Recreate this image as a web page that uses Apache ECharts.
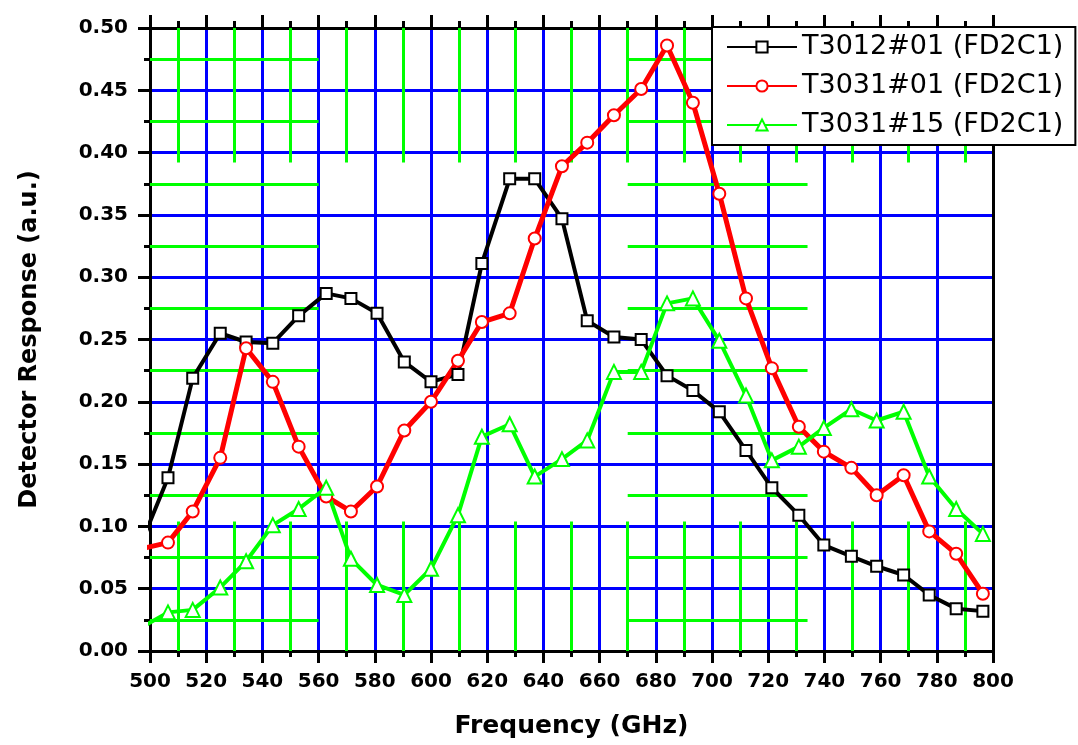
<!DOCTYPE html>
<html>
<head>
<meta charset="utf-8">
<script src="https://cdn.jsdelivr.net/npm/echarts@6/dist/echarts.min.js"></script>
<style>
html, body { margin: 0; padding: 0; background: #fff; }
#chart { width: 1078px; height: 745px; }
</style>
</head>
<body>
<div id="chart"></div>
<script>
// frequencies (GHz), shared by the three curves; first point sits just left of the axis
const freq = [497, 506.4, 515.2, 525.0, 534.2, 543.7, 552.9, 562.7, 571.5, 580.8,
    590.5, 600.0, 609.6, 618.1, 628.0, 636.9, 646.6, 655.6, 665.1, 674.8,
    684.0, 693.2, 702.6, 712.1, 721.3, 730.9, 739.8, 749.6, 758.6, 768.2,
    777.3, 786.9, 796.4];

const t3012_01 = [0.087, 0.139, 0.219, 0.255, 0.248, 0.247, 0.269, 0.287, 0.283, 0.271,
    0.232, 0.216, 0.222, 0.311, 0.379, 0.379, 0.347, 0.265, 0.252, 0.250,
    0.221, 0.209, 0.192, 0.161, 0.131, 0.109, 0.085, 0.076, 0.068, 0.061,
    0.045, 0.034, 0.032];

const t3031_01 = [0.082, 0.087, 0.112, 0.155, 0.243, 0.216, 0.164, 0.124, 0.112, 0.132,
    0.177, 0.200, 0.233, 0.264, 0.271, 0.331, 0.389, 0.408, 0.430, 0.451,
    0.486, 0.440, 0.367, 0.283, 0.227, 0.180, 0.160, 0.147, 0.125, 0.141,
    0.096, 0.078, 0.046];

const t3031_15 = [0.019, 0.031, 0.033, 0.051, 0.072, 0.101, 0.114, 0.131, 0.074, 0.053,
    0.045, 0.066, 0.109, 0.172, 0.182, 0.140, 0.154, 0.169, 0.224, 0.224,
    0.279, 0.283, 0.249, 0.205, 0.153, 0.164, 0.179, 0.194, 0.185, 0.192,
    0.140, 0.114, 0.094];

const seriesNames = ['T3012#01 (FD2C1)', 'T3031#01 (FD2C1)', 'T3031#15 (FD2C1)'];

const xTicks = { min: 500, max: 800, interval: 20 };
const yTicks = { min: 0, max: 0.5, interval: 0.05 };

// minor grid pieces (green) that only show up in parts of the plot
const minorX = [510, 530, 550, 570, 590, 610, 630, 650, 670, 690, 710, 730, 750, 770, 790];
const minorY = [0.025, 0.075, 0.125, 0.175, 0.225, 0.275, 0.325, 0.375, 0.425, 0.475];
const minorXBands = [[0, 0.104], [0.392, 0.5]];
const minorYBands = [[500, 560], [670, 734]];

const blue = '#0000ff';
const green = '#00ff00';
const tickFont = 'DejaVu Sans';

const chart = echarts.init(document.getElementById('chart'));

function pairs(ys) {
    return freq.map((f, i) => [f, ys[i]]);
}

let minorSegs = [];
minorX.forEach(x => minorXBands.forEach(b => minorSegs.push({ coords: [[x, b[0]], [x, b[1]]] })));
minorY.forEach(y => minorYBands.forEach(b => minorSegs.push({ coords: [[b[0], y], [b[1], y]] })));

function curve(name, ys, color, symbol, size, width) {
    return {
        name: name,
        type: 'line',
        data: pairs(ys),
        symbol: symbol,
        symbolSize: size,
        showAllSymbol: true,
        clip: true,
        z: 5,
        lineStyle: { color: color, width: width },
        itemStyle: { color: '#fff', borderColor: color, borderWidth: 2 }
    };
}

const option = {
    animation: false,
    backgroundColor: '#fff',
    grid: { left: 150, right: 85, top: 28, bottom: 94 },
    legend: {
        data: seriesNames,
        orient: 'vertical',
        left: 712,
        top: 27,
        padding: [5, 12, 5, 14],
        itemGap: 9,
        itemWidth: 70,
        itemHeight: 14,
        backgroundColor: '#fff',
        borderColor: '#000',
        borderWidth: 2,
        textStyle: { fontFamily: 'DejaVu Sans', fontSize: 27, color: '#000', lineHeight: 30 }
    },
    xAxis: [
        {
            type: 'value',
            min: xTicks.min, max: xTicks.max, interval: xTicks.interval,
            name: 'Frequency (GHz)',
            nameLocation: 'middle',
            nameGap: 63,
            nameTextStyle: { fontFamily: tickFont, fontWeight: 'bold', fontSize: 25, color: '#000' },
            axisLine: { show: true, onZero: false, lineStyle: { color: '#000', width: 3 } },
            axisTick: { show: true, inside: false, length: 12, lineStyle: { color: '#000', width: 3 } },
            minorTick: { show: true, splitNumber: 2, length: 6, lineStyle: { color: '#000', width: 3 } },
            axisLabel: { margin: 21, fontFamily: tickFont, fontWeight: 'bold', fontSize: 20, color: '#000' },
            splitLine: { show: true, showMinLine: false, showMaxLine: false, lineStyle: { color: blue, width: 3 } }
        },
        {
            type: 'value',
            position: 'top',
            min: xTicks.min, max: xTicks.max, interval: xTicks.interval,
            axisLine: { show: true, onZero: false, lineStyle: { color: '#000', width: 3 } },
            axisTick: { show: true, inside: false, length: 13, lineStyle: { color: '#000', width: 3 } },
            minorTick: { show: true, splitNumber: 2, length: 7, lineStyle: { color: '#000', width: 3 } },
            axisLabel: { show: false },
            splitLine: { show: false }
        }
    ],
    yAxis: [
        {
            type: 'value',
            min: yTicks.min, max: yTicks.max, interval: yTicks.interval,
            name: 'Detector Response (a.u.)',
            nameLocation: 'middle',
            nameGap: 108,
            nameTextStyle: { fontFamily: tickFont, fontWeight: 'bold', fontSize: 24, color: '#000' },
            axisLine: { show: true, onZero: false, lineStyle: { color: '#000', width: 3 } },
            axisTick: { show: true, inside: false, length: 12, lineStyle: { color: '#000', width: 3 } },
            minorTick: { show: true, splitNumber: 2, length: 6, lineStyle: { color: '#000', width: 3 } },
            axisLabel: {
                margin: 22, fontFamily: tickFont, fontWeight: 'bold', fontSize: 20, color: '#000',
                formatter: v => v.toFixed(2)
            },
            splitLine: { show: true, showMinLine: false, showMaxLine: false, lineStyle: { color: blue, width: 3 } }
        },
        {
            type: 'value',
            position: 'right',
            min: yTicks.min, max: yTicks.max, interval: yTicks.interval,
            axisLine: { show: true, onZero: false, lineStyle: { color: '#000', width: 3 } },
            axisTick: { show: false },
            axisLabel: { show: false },
            splitLine: { show: false }
        }
    ],
    series: [
        {
            name: 'minor grid',
            type: 'lines',
            coordinateSystem: 'cartesian2d',
            silent: true,
            z: 1,
            lineStyle: { color: green, width: 3, opacity: 1 },
            data: minorSegs
        },
        curve(seriesNames[0], t3012_01, '#000000', 'rect', 11, 4),
        curve(seriesNames[1], t3031_01, '#ff0000', 'circle', 12, 5),
        curve(seriesNames[2], t3031_15, '#00ff00', 'triangle', 14, 4)
    ]
};

chart.setOption(option);
</script>
</body>
</html>
